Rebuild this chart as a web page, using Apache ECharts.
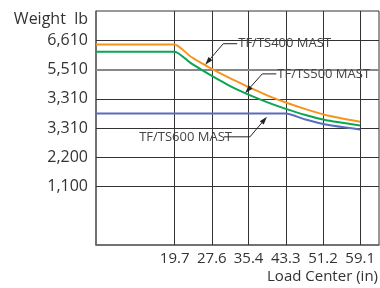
<!DOCTYPE html>
<html>
<head>
<meta charset="utf-8">
<script src="https://cdn.jsdelivr.net/npm/echarts@6/dist/echarts.min.js"></script>
<style>
  html, body { margin: 0; padding: 0; background: #fff; }
  #chart { width: 380px; height: 288px; }
</style>
</head>
<body>
<div id="chart"></div>
<script>
// x ticks (in) and y ticks (lb), labels as printed
var xTicks = [19.7, 27.6, 35.4, 43.3, 51.2, 59.1];
var yTicks = [1100, 2200, 3300, 4400, 5500, 6600];
var yTickLabels = ['1,100', '2,200', '3,310', '3,310', '5,510', '6,610'];

// load center points (in)
var loadCenter = [3, 19.7, 23.0, 25.8, 27.6, 30.8, 32.9, 36.4, 40.0, 43.3, 47.5, 51.7, 59.1];
var ts400 = [6443, 6443, 6000, 5700, 5520, 5230, 5050, 4760, 4480, 4260, 4010, 3790, 3533];
var ts500 = [6169, 6169, 5756, 5445, 5258, 4943, 4755, 4481, 4225, 4020, 3790, 3600, 3394];
var ts600 = [3844, 3844, 3844, 3844, 3844, 3844, 3844, 3844, 3844, 3844, 3619, 3431, 3244];

// annotation: name, point on curve the arrow points to, text side
var notes = [
    { name: 'TF/TS400 MAST', at: [26.2, 5680], dx: 18, dy: -21, len: 14 },
    { name: 'TF/TS500 MAST', at: [34.7, 4620], dx: 17, dy: -19, len: 14 },
    { name: 'TF/TS600 MAST', at: [39.3, 3720], dx: -17, dy: 20, len: -26 }
];

function pairs(xs, ys) {
    var out = [];
    for (var i = 0; i < xs.length; i++) out.push([xs[i], ys[i]]);
    return out;
}

var font = 'Open Sans';
var txtColor = '#333';

// grid lines at the printed ticks only
var gridLines = [];
for (var i = 0; i < xTicks.length; i++) {
    gridLines.push({ xAxis: xTicks[i] });
}
for (var j = 0; j < yTicks.length; j++) {
    var special = yTicks[j] === 5500;
    gridLines.push({
        yAxis: yTicks[j],
        lineStyle: { color: special ? '#888' : '#333', width: special ? 2 : 1 }
    });
}

var option = {
    backgroundColor: '#fff',
    animation: false,
    textStyle: { fontFamily: font, fontSize: 16 },
    grid: {
        left: 96, right: 1, top: 11, bottom: 43,
        outerBoundsMode: 'none',
        show: true, borderColor: '#333', borderWidth: 1
    },
    xAxis: {
        type: 'value',
        min: 3, max: 63.1,
        name: 'Load Center (in)',
        nameLocation: 'end',
        nameGap: -1,
        nameTextStyle: {
            color: txtColor, fontSize: 15,
            align: 'right', verticalAlign: 'top', padding: [24, 0, 0, 0]
        },
        axisLine: { show: true, onZero: false, lineStyle: { color: '#666', width: 1.5 } },
        axisTick: { show: false, customValues: xTicks },
        axisLabel: {
            customValues: xTicks, margin: 6, hideOverlap: false,
            color: txtColor, fontSize: 15,
            formatter: function (v) { return v.toFixed(1); }
        },
        splitLine: { show: false }
    },
    yAxis: {
        type: 'value',
        min: -1100, max: 7700,
        name: 'Weight  lb',
        nameLocation: 'end',
        nameGap: -8,
        nameTextStyle: {
            color: txtColor, fontSize: 16,
            align: 'right', verticalAlign: 'middle', padding: [0, 8, 0, 0]
        },
        axisLine: { show: true, onZero: false, lineStyle: { color: '#666', width: 1.5 } },
        axisTick: { show: false, customValues: yTicks },
        axisLabel: {
            customValues: yTicks, margin: 8,
            color: txtColor, fontSize: 16,
            formatter: function (v) { return yTickLabels[yTicks.indexOf(v)] || ''; }
        },
        splitLine: { show: false }
    },
    series: [
        {
            name: 'TF/TS600 MAST', type: 'line', data: pairs(loadCenter, ts600),
            smooth: 0.2, symbol: 'none',
            lineStyle: { color: '#5a6cc0', width: 2 },
            markLine: {
                silent: true, symbol: 'none', label: { show: false },
                lineStyle: { color: '#333', width: 1, type: 'solid' },
                data: gridLines, z: 1
            },
            z: 3
        },
        {
            name: 'TF/TS500 MAST', type: 'line', data: pairs(loadCenter, ts500),
            smooth: 0.2, symbol: 'none',
            lineStyle: { color: '#0aa651', width: 2 }, z: 4
        },
        {
            name: 'TF/TS400 MAST', type: 'line', data: pairs(loadCenter, ts400),
            smooth: 0.2, symbol: 'none',
            lineStyle: { color: '#f7941d', width: 2 }, z: 5
        }
    ]
};

var myChart = echarts.init(document.getElementById('chart'));
myChart.setOption(option);

// leader lines with arrow heads, placed from the curve point
var graphics = [];
for (var i = 0; i < notes.length; i++) {
    var n = notes[i];
    var tip = myChart.convertToPixel({ gridIndex: 0 }, n.at);
    var elbow = [tip[0] + n.dx, tip[1] + n.dy];
    var end = [elbow[0] + n.len, elbow[1]];
    var vx = tip[0] - elbow[0], vy = tip[1] - elbow[1];
    var d = Math.sqrt(vx * vx + vy * vy);
    vx /= d; vy /= d;
    var hl = 8, hw = 2.6;
    var bx = tip[0] - vx * hl, by = tip[1] - vy * hl;
    graphics.push({
        type: 'polyline', z: 10,
        shape: { points: [end, elbow, [bx, by]] },
        style: { stroke: '#222', lineWidth: 1, fill: null }
    });
    graphics.push({
        type: 'polygon', z: 10,
        shape: { points: [tip, [bx - vy * hw, by + vx * hw], [bx + vy * hw, by - vx * hw]] },
        style: { fill: '#222' }
    });
    var right = n.len < 0;
    graphics.push({
        type: 'text', z: 9,
        x: right ? end[0] + 8 : end[0] + 1,
        y: end[1],
        style: {
            text: n.name, fill: '#444', fontFamily: font, fontSize: 13,
            textAlign: right ? 'right' : 'left', textVerticalAlign: 'middle'
        }
    });
}
myChart.setOption({ graphic: graphics });
</script>
</body>
</html>
